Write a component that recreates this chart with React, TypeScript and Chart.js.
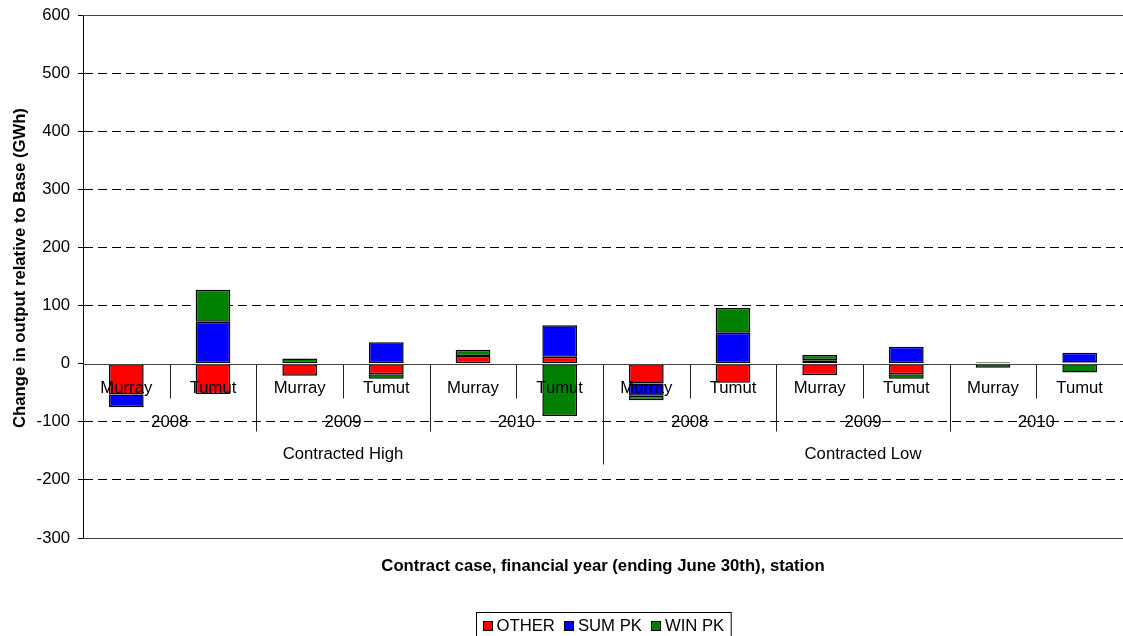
import React, { useEffect, useRef } from "react";
import { Chart, registerables } from "chart.js";

Chart.register(...registerables);

const stations = ["Murray", "Tumut", "Murray", "Tumut", "Murray", "Tumut", "Murray", "Tumut", "Murray", "Tumut", "Murray", "Tumut"];
const years = ["2008", "2009", "2010", "2008", "2009", "2010"];
const cases = ["Contracted High", "Contracted Low"];

const otherValues = [-53, -52, -21, -18, 13, 12, -34, -33, -20, -18, 2, 2];
const sumPkValues = [-22, 72, 0, 37, 0, 54, -21, 53, 6, 29, 1, 17];
const winPkValues = [0, 55, 9, -8, 11, -90, -8, 43, 9, -8, -7, -15];

const yTicks = [-300, -200, -100, 0, 100, 200, 300, 400, 500, 600];

const FONT = "'Liberation Sans', Arial, sans-serif";
const FS = 16.7;

const axisPlugin = {
  id: "customAxis",
  afterDatasetsDraw(chart: any) {
    const { ctx, chartArea } = chart;
    const xs = chart.scales.x;
    const ys = chart.scales.y;
    const y0 = Math.round(ys.getPixelForValue(0)) + 0.5;
    const n = stations.length;
    const step = xs.getPixelForValue(1) - xs.getPixelForValue(0);
    const perYear = n / years.length;
    const perCase = n / cases.length;
    ctx.save();
    ctx.strokeStyle = "#444";
    ctx.lineWidth = 1;
    ctx.setLineDash([]);
    const solidVals = [0, yTicks[0], yTicks[yTicks.length - 1]];
    solidVals.forEach((v) => {
      const py = Math.round(ys.getPixelForValue(v)) + 0.5;
      ctx.beginPath();
      ctx.moveTo(chartArea.left, py);
      ctx.lineTo(chartArea.right, py);
      ctx.stroke();
    });
    ctx.strokeStyle = "#222";
    for (let i = 1; i < n; i++) {
      const bx = Math.round(xs.getPixelForValue(i) - step / 2) + 0.5;
      let len = 34;
      if (i % perCase === 0) len = 100;
      else if (i % perYear === 0) len = 67;
      ctx.beginPath();
      ctx.moveTo(bx, y0);
      ctx.lineTo(bx, y0 + len);
      ctx.stroke();
    }
    ctx.fillStyle = "#000";
    ctx.font = `${FS}px ${FONT}`;
    ctx.textAlign = "center";
    ctx.textBaseline = "middle";
    stations.forEach((s, i) => {
      ctx.fillText(s, xs.getPixelForValue(i), y0 + 24);
    });
    years.forEach((yr, j) => {
      const cx = (xs.getPixelForValue(j * perYear) + xs.getPixelForValue(j * perYear + perYear - 1)) / 2;
      ctx.fillText(yr, cx, y0 + 58);
    });
    cases.forEach((c, k) => {
      const cx = (xs.getPixelForValue(k * perCase) + xs.getPixelForValue(k * perCase + perCase - 1)) / 2;
      ctx.fillText(c, cx, y0 + 90);
    });
    ctx.restore();
  },
  afterDraw(chart: any) {
    const { ctx, chartArea } = chart;
    ctx.save();
    ctx.fillStyle = "#000";
    ctx.font = `bold ${FS}px ${FONT}`;
    ctx.textAlign = "center";
    ctx.textBaseline = "middle";
    const cx = (chartArea.left + chartArea.right) / 2;
    ctx.fillText("Contract case, financial year (ending June 30th), station", cx, chartArea.bottom + 28);
    ctx.translate(20, 268);
    ctx.rotate(-Math.PI / 2);
    ctx.fillText("Change in output relative to Base (GWh)", 0, 0);
    ctx.restore();

    ctx.save();
    ctx.font = `${FS}px ${FONT}`;
    ctx.textBaseline = "middle";
    ctx.textAlign = "left";
    const ds = chart.data.datasets;
    const box = 10, gapBT = 4, gapItem = 9, padL = 6, padR = 7;
    const widths = ds.map((d: any) => ctx.measureText(d.label).width);
    let W = padL + padR;
    widths.forEach((w: number, i: number) => {
      W += box + gapBT + w + (i < ds.length - 1 ? gapItem : 0);
    });
    const left = Math.round(cx - W / 2) + 0.5;
    const top = chart.height - 24 + 0.5;
    ctx.strokeStyle = "#000";
    ctx.lineWidth = 1;
    ctx.strokeRect(left, top, W, 40);
    let x = left + padL;
    const cy = top + 13;
    ds.forEach((d: any, i: number) => {
      ctx.fillStyle = d.backgroundColor;
      ctx.fillRect(Math.round(x), Math.round(cy - box / 2), box, box);
      ctx.strokeRect(Math.round(x) + 0.5, Math.round(cy - box / 2) + 0.5, box - 1, box - 1);
      ctx.fillStyle = "#000";
      ctx.fillText(d.label, x + box + gapBT, cy + 1);
      x += box + gapBT + widths[i] + gapItem;
    });
    ctx.restore();
  },
};

export default function App() {
  const ref = useRef<HTMLCanvasElement>(null);
  useEffect(() => {
    if (!ref.current) return;
    const common = { borderColor: "#000", borderWidth: 1.5, borderSkipped: false as any, barPercentage: 0.4, categoryPercentage: 1.0 };
    const chart = new Chart(ref.current, {
      type: "bar",
      data: {
        labels: stations.map((s, i) => `${s}-${i}`),
        datasets: [
          { label: "OTHER", data: otherValues, backgroundColor: "#FF0000", ...common },
          { label: "SUM PK", data: sumPkValues, backgroundColor: "#0000FF", ...common },
          { label: "WIN PK", data: winPkValues, backgroundColor: "#008000", ...common },
        ],
      },
      options: {
        responsive: false,
        animation: false,
        devicePixelRatio: 1,
        layout: { padding: { left: 0, right: 0, top: 15, bottom: 98 } },
        plugins: { legend: { display: false }, tooltip: { enabled: false } },
        scales: {
          x: {
            stacked: true,
            display: false,
          },
          y: {
            stacked: true,
            min: yTicks[0],
            max: yTicks[yTicks.length - 1],
            afterBuildTicks: (scale: any) => {
              scale.ticks = yTicks.map((v) => ({ value: v }));
            },
            afterFit: (scale: any) => {
              scale.width = 83;
              scale.paddingTop = 0;
              scale.paddingBottom = 0;
            },
            ticks: {
              color: "#000",
              font: { family: FONT, size: FS },
              padding: 8,
            },
            grid: {
              color: (c: any) => {
                const v = c.tick ? c.tick.value : null;
                if (v === 0 || v === yTicks[0] || v === yTicks[yTicks.length - 1]) return "rgba(0,0,0,0)";
                return "#000";
              },
              tickColor: "#000",
              tickLength: 5,
              lineWidth: 1,
            },
            border: { display: true, color: "#000", width: 1, dash: [9, 5] },
          },
        },
      },
      plugins: [axisPlugin],
    } as any);
    return () => chart.destroy();
  }, []);
  return (
    <div style={{ position: "absolute", left: 0, top: 0, width: 1123, height: 636, background: "#fff" }}>
      <canvas ref={ref} width={1123} height={636} style={{ display: "block" }} />
    </div>
  );
}
